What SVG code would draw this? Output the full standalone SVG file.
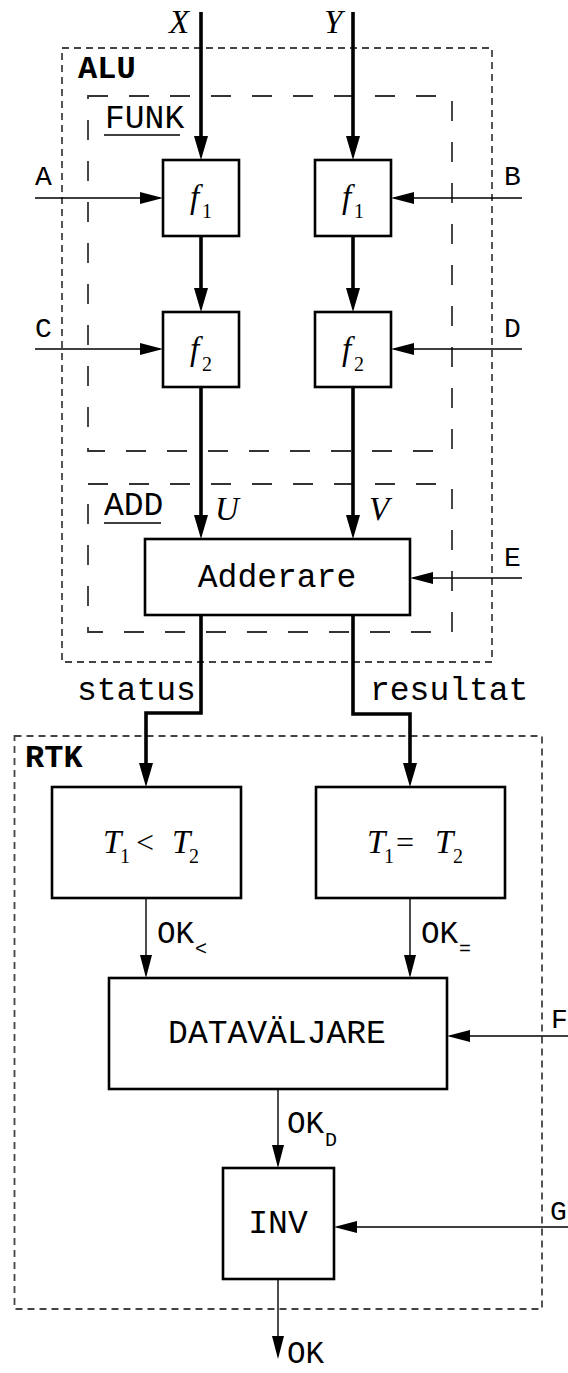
<svg xmlns="http://www.w3.org/2000/svg" width="568" height="1373" viewBox="0 0 568 1373">
<style>
  .outer { fill: none; stroke: #444; stroke-width: 1.8; stroke-dasharray: 7 5; }
  .inner { fill: none; stroke: #333; stroke-width: 1.8; stroke-dasharray: 20 21; }
  .box { fill: #fff; stroke: #000; stroke-width: 2.6; }
  .bus { fill: none; stroke: #000; stroke-width: 3.6; marker-end: url(#ahThick); }
  .sig { fill: none; stroke: #000; stroke-width: 1.4; marker-end: url(#ahThin); }
  .mono { font-family: "Liberation Mono", "Courier New", monospace; font-size: 33px; fill: #000; }
  .lbl { font-family: "Liberation Mono", "Courier New", monospace; font-size: 28px; fill: #000; }
  .bold { font-family: "Liberation Mono", "Courier New", monospace; font-size: 32px; font-weight: bold; fill: #000; }
  .ok { font-family: "Liberation Mono", "Courier New", monospace; font-size: 31px; fill: #000; }
  .oksub { font-family: "Liberation Mono", "Courier New", monospace; font-size: 20px; fill: #000; }
  .math { font-family: "Liberation Serif", "Times New Roman", serif; font-style: italic; font-size: 33px; fill: #000; }
  .rm { font-family: "Liberation Serif", "Times New Roman", serif; font-size: 32px; fill: #000; }
  .sub { font-family: "Liberation Serif", "Times New Roman", serif; font-size: 20px; fill: #000; }
  .uline { stroke: #000; stroke-width: 1.5; }
</style>
<defs>
  <marker id="ahThick" markerUnits="userSpaceOnUse" markerWidth="24" markerHeight="14" refX="16" refY="7" orient="auto">
    <path d="M0,0 L24,7 L0,14 z" fill="#000"/>
  </marker>
  <marker id="ahThin" markerUnits="userSpaceOnUse" markerWidth="23" markerHeight="12" refX="20" refY="6" orient="auto">
    <path d="M0,0 L23,6 L0,12 z" fill="#000"/>
  </marker>
</defs>

<g id="alu">
  <rect class="outer" x="62" y="48" width="430" height="614"/>
  <text class="bold" x="78" y="78">ALU</text>
</g>
<g id="funk">
  <rect class="inner" x="88" y="96" width="364" height="355"/>
  <text class="mono" x="105" y="128">FUNK</text>
  <line class="uline" x1="104" y1="135" x2="180" y2="135"/>
</g>
<g id="add">
  <rect class="inner" x="88" y="484" width="364" height="148"/>
  <text class="mono" x="104" y="515">ADD</text>
  <line class="uline" x1="104" y1="523" x2="161" y2="523"/>
</g>
<g id="rtk">
  <rect class="outer" x="14.5" y="736" width="527.5" height="573"/>
  <text class="bold" x="25" y="767">RTK</text>
</g>

<g id="connectors">
  <line class="bus" x1="201" y1="12" x2="201" y2="152"/>
  <line class="bus" x1="353" y1="12" x2="353" y2="152"/>
  <line class="bus" x1="201" y1="236" x2="201" y2="304"/>
  <line class="bus" x1="353" y1="236" x2="353" y2="304"/>
  <line class="bus" x1="201" y1="387" x2="201" y2="531"/>
  <line class="bus" x1="353" y1="387" x2="353" y2="531"/>
  <path class="bus" d="M201,615 V713 H146 V779"/>
  <path class="bus" d="M353,615 V714 H410 V779"/>
  <line class="sig" x1="35" y1="198" x2="160" y2="198"/>
  <line class="sig" x1="522" y1="198" x2="394" y2="198"/>
  <line class="sig" x1="35" y1="349" x2="160" y2="349"/>
  <line class="sig" x1="522" y1="349" x2="394" y2="349"/>
  <line class="sig" x1="522" y1="578" x2="413" y2="578"/>
  <line class="sig" x1="146" y1="898" x2="146" y2="975"/>
  <line class="sig" x1="410" y1="898" x2="410" y2="975"/>
  <line class="sig" x1="568" y1="1036" x2="450" y2="1036"/>
  <line class="sig" x1="278" y1="1089" x2="278" y2="1165"/>
  <line class="sig" x1="568" y1="1227" x2="337" y2="1227"/>
  <line class="sig" x1="278" y1="1279" x2="278" y2="1356"/>
</g>

<g id="labels">
  <text class="math" x="169" y="33">X</text>
  <text class="math" x="324" y="33">Y</text>
  <text class="lbl" x="35" y="185">A</text>
  <text class="lbl" x="504" y="185">B</text>
  <text class="lbl" x="35" y="337">C</text>
  <text class="lbl" x="504" y="337">D</text>
  <text class="lbl" x="504" y="566">E</text>
  <text class="lbl" x="551" y="1028">F</text>
  <text class="lbl" x="550" y="1220">G</text>
  <text class="math" x="215" y="520">U</text>
  <text class="math" x="369" y="520">V</text>
  <text class="mono" x="77" y="700">status</text>
  <text class="mono" x="370" y="700">resultat</text>
  <text class="ok" x="157" y="943">OK</text>
  <text class="oksub" x="195" y="955">&lt;</text>
  <text class="ok" x="421" y="943">OK</text>
  <text class="oksub" x="459" y="955">=</text>
  <text class="ok" x="287" y="1133">OK</text>
  <text class="oksub" x="325" y="1146">D</text>
  <text class="ok" x="287" y="1363" font-size="28">OK</text>
</g>

<g id="f1a">
  <rect class="box" x="163" y="160" width="76" height="76"/>
  <text class="math" x="190" y="208">f</text>
  <text class="sub" x="202" y="218">1</text>
</g>
<g id="f1b">
  <rect class="box" x="315" y="160" width="76" height="76"/>
  <text class="math" x="342" y="208">f</text>
  <text class="sub" x="354" y="218">1</text>
</g>
<g id="f2a">
  <rect class="box" x="163" y="312" width="76" height="75"/>
  <text class="math" x="190" y="360">f</text>
  <text class="sub" x="202" y="371">2</text>
</g>
<g id="f2b">
  <rect class="box" x="315" y="312" width="76" height="75"/>
  <text class="math" x="342" y="360">f</text>
  <text class="sub" x="354" y="371">2</text>
</g>
<g id="adderare">
  <rect class="box" x="145" y="539" width="265" height="76"/>
  <text class="mono" x="277" y="587" text-anchor="middle">Adderare</text>
</g>
<g id="cmp-lt">
  <rect class="box" x="52" y="787" width="189" height="111"/>
  <text class="math" x="103" y="853">T</text>
  <text class="sub" x="120" y="863">1</text>
  <text class="rm" x="136" y="853">&lt;</text>
  <text class="math" x="172" y="853">T</text>
  <text class="sub" x="189" y="863">2</text>
</g>
<g id="cmp-eq">
  <rect class="box" x="316" y="787" width="189" height="111"/>
  <text class="math" x="367" y="853">T</text>
  <text class="sub" x="384" y="863">1</text>
  <text class="rm" x="396" y="853">=</text>
  <text class="math" x="435" y="853">T</text>
  <text class="sub" x="453" y="863">2</text>
</g>
<g id="datavaljare">
  <rect class="box" x="109" y="978" width="338" height="111"/>
  <text class="mono" x="277" y="1043" text-anchor="middle">DATAVÄLJARE</text>
</g>
<g id="inv">
  <rect class="box" x="223" y="1168" width="111" height="111"/>
  <text class="mono" x="278" y="1233" text-anchor="middle">INV</text>
</g>
</svg>
